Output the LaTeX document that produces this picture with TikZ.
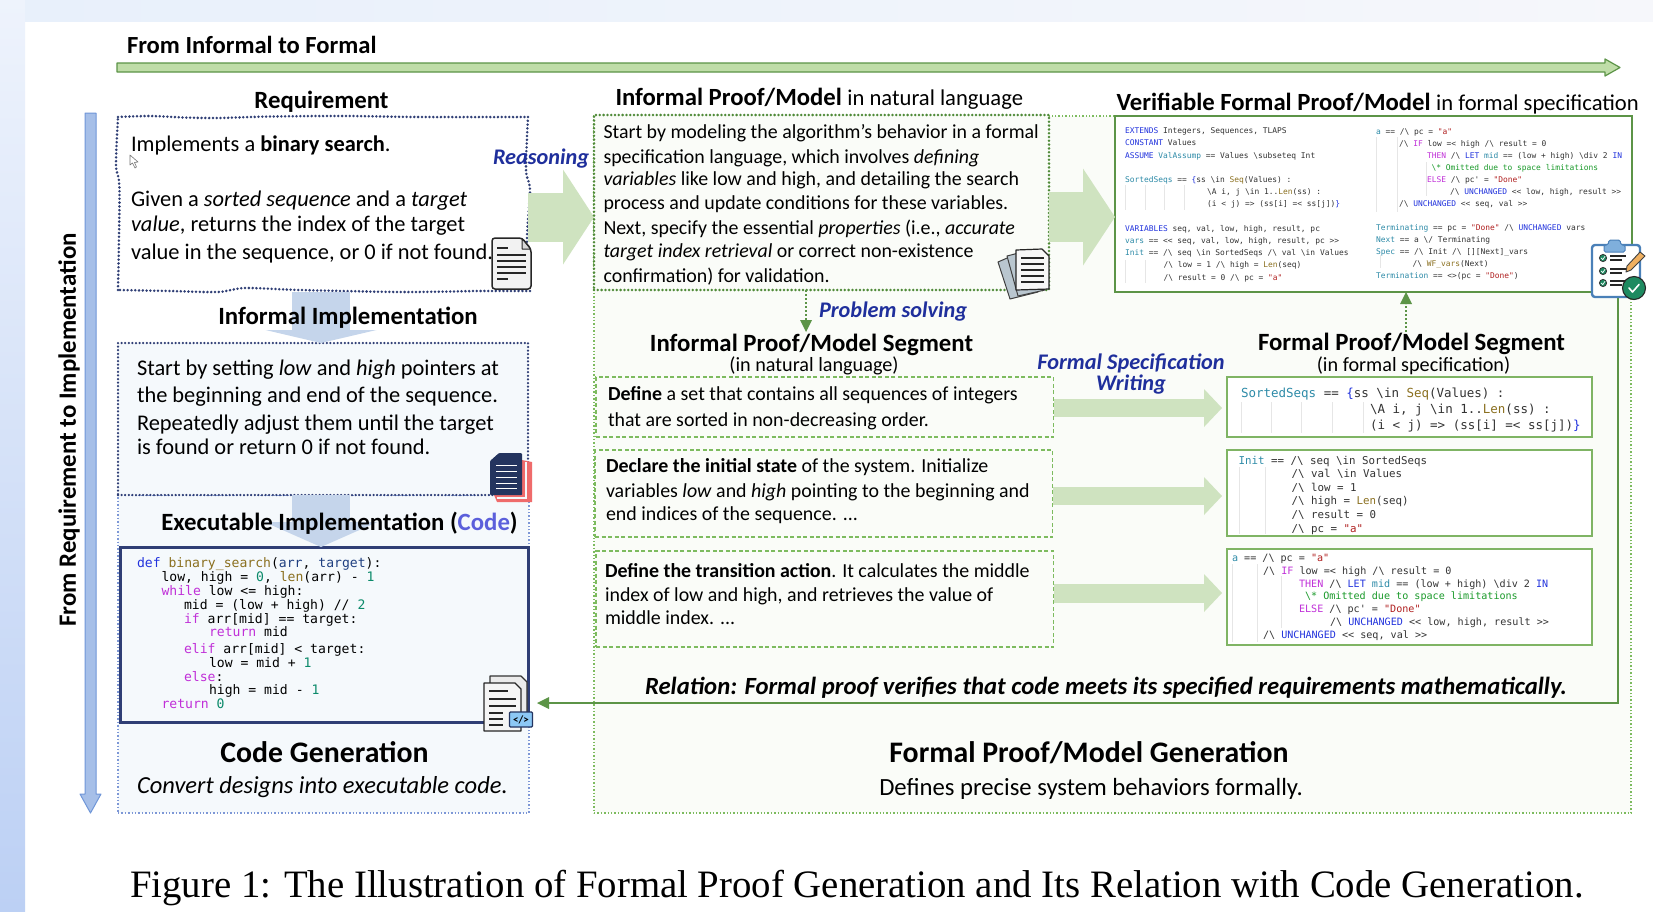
\documentclass[tikz,border=0pt]{standalone}
\usepackage{fontspec}
\setmainfont{Carlito}
\setmonofont{DejaVu Sans Mono}
\newfontfamily\capfont{Liberation Serif}
\usetikzlibrary{arrows.meta}
\definecolor{navydot}{HTML}{2F3E75}
\definecolor{greendot}{HTML}{4F8A38}
\definecolor{segdash}{HTML}{7DBB5F}
\definecolor{boxgreen}{HTML}{7FB464}
\definecolor{darkgreen}{HTML}{5C9447}
\definecolor{bigarrow}{HTML}{CFE3C0}
\definecolor{downblue}{HTML}{C5D5EB}
\definecolor{labelblue}{HTML}{1F2F9C}
\definecolor{codeblue}{HTML}{5B5FDB}
\definecolor{panelblue}{HTML}{F5F9FC}
\definecolor{panelgreen}{HTML}{FAFCF8}
\definecolor{guide}{HTML}{E6E6E6}
\definecolor{tlak}{HTML}{2233DD}
\definecolor{tlam}{HTML}{C030D8}
\definecolor{tlad}{HTML}{2E8BA8}
\definecolor{tlab}{HTML}{8B7020}
\definecolor{tlas}{HTML}{B02020}
\definecolor{tlac}{HTML}{1A9A2A}
\definecolor{tlat}{HTML}{333333}
\definecolor{pyname}{HTML}{1F3F80}
\definecolor{pynum}{HTML}{0B8A6A}
\definecolor{stripA}{HTML}{EEF3FC}
\definecolor{stripB}{HTML}{BCD0F4}
\definecolor{stripC}{HTML}{E8F0FB}
\definecolor{stripD}{HTML}{F6F7FB}
\definecolor{topfill}{HTML}{BFDDA8}
\definecolor{vfill}{HTML}{A6BFE8}
\definecolor{vdraw}{HTML}{6F96D8}
\definecolor{paneldot}{HTML}{7D97D6}
\definecolor{redpage}{HTML}{EF6B6B}
\definecolor{navypage}{HTML}{24345F}
\definecolor{badge}{HTML}{8CC8F5}
\definecolor{papergrey}{HTML}{B9C6CF}
\definecolor{clipblue}{HTML}{4A80B8}
\definecolor{clipfill}{HTML}{7FAFDC}
\definecolor{okgreen}{HTML}{1E8A60}
\definecolor{pencil}{HTML}{F0B060}
\newcommand\Tk[1]{\textcolor{tlak}{#1}}
\newcommand\Tm[1]{\textcolor{tlam}{#1}}
\newcommand\Td[1]{\textcolor{tlad}{#1}}
\newcommand\Tb[1]{\textcolor{tlab}{#1}}
\newcommand\Ts[1]{\textcolor{tlas}{#1}}
\newcommand\Tc[1]{\textcolor{tlac}{#1}}
\newcommand\Tn[1]{\textcolor{pyname}{#1}}
\newcommand\Tu[1]{\textcolor{pynum}{#1}}
\newcommand\tbs{\textbackslash{}}
\newcommand\awe{/\textbackslash{}}
\newcommand\ind[1]{\hspace*{#1pt}}
\newcommand\normpart[1]{{\fontsize{22.6}{28}\mdseries\selectfont #1}}
\tikzset{
  x=1pt,y=-1pt,
  every node/.style={inner sep=0pt,outer sep=0pt},
  txt/.style={anchor=base west,align=left,text=black},
  body/.style={txt,font=\fontsize{22.4}{25}\selectfont},
  sbody/.style={txt,font=\fontsize{19.9}{24}\selectfont},
  ctitle/.style={anchor=base,text=black,font=\fontsize{24.8}{28}\bfseries\selectfont},
  bigtitle/.style={anchor=base,text=black,font=\fontsize{29.8}{32}\bfseries\selectfont},
  sub/.style={anchor=base,text=black,font=\fontsize{20.2}{24}\selectfont},
  flow/.style={anchor=base,align=center,text=labelblue,font=\fontsize{22.3}{21}\bfseries\itshape\selectfont},
  pycode/.style={anchor=base west,align=left,text=black,font=\fontsize{13.1}{14}\ttfamily\selectfont},
  tla/.style={anchor=base west,align=left,text=tlat},
  boxat/.style={anchor=north west,minimum width=#1},
  reqdot/.style={draw=navydot,line width=2.8pt,line cap=round,dash pattern=on 0pt off 3.8pt},
  impldot/.style={draw=navydot,line width=2.5pt,line cap=round,dash pattern=on 0pt off 3.6pt},
  panelb/.style={draw=paneldot,fill=panelblue,line width=1.2pt,dash pattern=on 1.4pt off 2pt},
  panelg/.style={draw=segdash,fill=panelgreen,line width=1.2pt,dash pattern=on 1.4pt off 2pt},
  infbox/.style={draw=greendot,fill=panelgreen,line width=2.8pt,line cap=round,dash pattern=on 0pt off 3.8pt},
  segbox/.style={draw=segdash,fill=panelgreen,line width=1.8pt,dash pattern=on 4pt off 2.5pt},
  fbox/.style={draw=boxgreen,fill=white,line width=2.4pt},
  broad/.style n args={4}{draw=#4,line width=#1pt,-{Triangle[length=#2pt,width=#3pt,line width=0pt]}},
  guideline/.style={draw=guide,line width=.8pt},
  iconline/.style={draw=black!85,line width=1.4pt},
  flowdot/.style={draw=darkgreen,line width=2.4pt,dash pattern=on 2pt off 2pt,-{Triangle[length=12pt,width=12pt,line width=0pt]}},
  relline/.style={draw=darkgreen,line width=2.6pt,-{Triangle[length=12pt,width=12pt,line width=0pt]}},
}
\begin{document}
\begin{tikzpicture}
\useasboundingbox (0,0) rectangle (1653,911);
% page background
\fill[white] (0,0) rectangle (1653,911);
\shade[top color=stripA,bottom color=stripB] (0,0) rectangle (25,911);
\shade[left color=stripC,right color=stripD] (25,0) rectangle (1653,21);

% direction arrows
\draw[draw=darkgreen,fill=topfill,line width=1.2pt,line join=round]
  (117,63) -- (1605,63) -- (1605,59) -- (1620,67.5) -- (1605,76) -- (1605,72) -- (117,72) -- cycle;
\node[anchor=base west,text=black,font=\fontsize{24.6}{28}\bfseries\selectfont] (hlabel) at (127,53) {From Informal to Formal};
\draw[draw=vdraw,fill=vfill,line width=1pt,line join=round]
  (85,113) -- (96,113) -- (96,794) -- (101,794) -- (90.5,813) -- (80,794) -- (85,794) -- cycle;
\node[rotate=90,anchor=center,text=black,font=\fontsize{24.9}{28}\bfseries\selectfont] (vlabel) at (69,430) {From Requirement to Implementation};

% panels
\node[panelb,boxat=411pt,minimum height=318pt] (codepanel) at (118,495) {};
\node[panelg,boxat=1037pt,minimum height=697pt] (formalpanel) at (594,116) {};

% requirement (wavy dotted outline)
\node[boxat=410pt,minimum height=176pt] (req) at (118,116) {};
\draw[reqdot] plot[smooth,tension=.5] coordinates {(118,117) (150,116) (184,117.5) (218,118) (270,116.5) (344,116) (420,117) (528,117)};
\draw[reqdot] plot[smooth,tension=.5] coordinates {(528,117) (526,170) (530,190) (527,240) (530,291)};
\draw[reqdot] plot[smooth,tension=.5] coordinates {(530,291) (480,291) (402,292) (300,290) (245,288) (218,292) (170,291) (118,290)};
\draw[reqdot] plot[smooth,tension=.5] coordinates {(118,290) (119.5,190) (116,165) (118,117)};
\node[impldot,fill=panelblue,boxat=410pt,minimum height=152pt] (impl) at (118,343) {};
\node[draw=navydot,fill=panelblue,line width=3pt,boxat=408pt,minimum height=175pt] (codebox) at (120,547) {};

% big flow arrows
\coordinate (r1) at (0,217);
\coordinate (d1) at (321,0);
\draw[broad={49}{31}{95}{bigarrow}] (req.east |- r1) -- (formalpanel.west |- r1);
\node[infbox,boxat=455pt,minimum height=175pt] (inf) at (594,115) {};
\node[draw=darkgreen,fill=white,line width=2.8pt,boxat=517pt,minimum height=176pt] (verif) at (1115,116) {};
\draw[broad={50}{32}{97}{bigarrow}] (inf.east |- r1) -- (verif.west |- r1);
\draw[broad={58}{13}{111}{downblue}] (req.south -| d1) -- (impl.north -| d1);
\draw[broad={58}{25}{113}{downblue}] (impl.south -| d1) -- (codebox.north -| d1);

% left titles and text
\node[ctitle] (reqt) at (321.5,108) {Requirement};
\node[body] (reqtxt) at (131,259) {Implements a \textbf{binary search}.\\[30pt]Given a \textit{sorted sequence} and a \textit{target}\\\textit{value}, returns the index of the target\\[3pt]value in the sequence, or 0 if not found.};
\node[ctitle] (implt) at (348,324) {Informal Implementation};
\node[body] (impltxt) at (137,454) {Start by setting \textit{low} and \textit{high} pointers at\\[2pt]the beginning and end of the sequence.\\[3pt]Repeatedly adjust them until the target\\[-1pt]is found or return 0 if not found.};
\node[ctitle] (codet) at (339.5,530) {Executable Implementation (\textcolor{codeblue}{Code})};
\node[pycode] (pysrc) at (137,708) {\Tk{def} \Tb{binary\_search}(\Tn{arr}, \Tn{target}):\\
\ind{24.5}low, high = \Tu{0}, \Tb{len}(arr) - \Tu{1}\\
\ind{24.5}\Tm{while} low <= high:\\
\ind{47}mid = (low + high) // \Tu{2}\\
\ind{47}\Tm{if} arr[mid] == target:\\[-1pt]
\ind{72}\Tm{return} mid\\[3pt]
\ind{47}\Tm{elif} arr[mid] < target:\\
\ind{72}low = mid + \Tu{1}\\
\ind{47}\Tm{else}:\\[-1pt]
\ind{72}high = mid - \Tu{1}\\
\ind{24.5}\Tm{return} \Tu{0}};
\node[bigtitle] (codegen) at (324.5,762) {Code Generation};
\node[txt,font=\fontsize{24.5}{28}\itshape\selectfont] (codegens) at (137,793) {Convert designs into executable code.};

% middle column
\node[txt,font=\fontsize{24.7}{28}\selectfont] (inft) at (615.5,105) {\textbf{Informal Proof/Model} \normpart{in natural language}};
\node[sbody] (inftxt) at (603.5,282) {Start by modeling the algorithm’s behavior in a formal\\[1pt]specification language, which involves \textit{defining}\\[-2pt]\textit{variables} like low and high, and detailing the search\\process and update conditions for these variables.\\[1pt]Next, specify the essential \textit{properties} (i.e., \textit{accurate}\\[-1pt]\textit{target index retrieval} or correct non-existence\\[1pt]confirmation) for validation.};
\coordinate (ps) at (806,332);
\draw[flowdot] (inf.south -| ps) -- (ps);
\node[flow,anchor=base west] (pslabel) at (819,317) {Problem solving};
\node[ctitle] (segl) at (811.5,351) {Informal Proof/Model Segment};
\node[sub] (segls) at (814,371) {(in natural language)};
\node[segbox,boxat=457.5pt,minimum height=60pt] (seg1) at (596,377) {};
\node[segbox,boxat=457.5pt,minimum height=87pt] (seg2) at (595,450) {};
\node[segbox,boxat=457.5pt,minimum height=96pt] (seg3) at (596,551) {};
\node[sbody] (seg1t) at (608,426.5) {\textbf{Define} a set that contains all sequences of integers\\[2pt]that are sorted in non-decreasing order.};
\node[sbody] (seg2t) at (606,520.5) {\textbf{Declare the initial state} of the system. Initialize\\[1pt]variables \textit{low} and \textit{high} pointing to the beginning and\\[-1pt]end indices of the sequence. ...};
\node[sbody] (seg3t) at (605,624.5) {\textbf{Define the transition action}. It calculates the middle\\index of low and high, and retrieves the value of\\[-1pt]middle index. ...};

% right column
\node[txt,font=\fontsize{24.7}{28}\selectfont] (vert) at (1116.5,110) {\textbf{Verifiable Formal Proof/Model} \normpart{in formal specification}};
\draw[guideline] (1125,185) -- (1125,210) (1145,185) -- (1145,210) (1164,185) -- (1164,210) (1184,185) -- (1184,210)
  (1125,260) -- (1125,283) (1145,260) -- (1145,283) (1376,137) -- (1376,212) (1397,137) -- (1397,212) (1426,162) -- (1426,196) (1380,255) -- (1380,268);
\node[tla,font=\fontsize{7.9}{12.2}\ttfamily\selectfont] (verl) at (1125,280) {\Tk{EXTENDS} Integers, Sequences, TLAPS\\
\Tk{CONSTANT} Values\\
\Tk{ASSUME} \Td{ValAssump} == Values \tbs subseteq Int\\
\mbox{}\\
\Td{SortedSeqs} == \Tk{\{}ss \tbs in \Tb{Seq}(Values) :\\
\ind{82}\tbs A i, j \tbs in 1..\Tb{Len}(ss) :\\
\ind{82}(i < j) => (ss[i] =< ss[j])\Tk{\}}\\
\mbox{}\\
\Tk{VARIABLES} seq, val, low, high, result, pc\\
\Td{vars} == << seq, val, low, high, result, pc >>\\
\Td{Init} == \awe{} seq \tbs in SortedSeqs \awe{} val \tbs in Values\\
\ind{38.5}\awe{} low = 1 \awe{} high = \Tb{Len}(seq)\\
\ind{38.5}\awe{} result = 0 \awe{} pc = \Ts{"a"}};
\node[tla,font=\fontsize{7.9}{12}\ttfamily\selectfont] (verr) at (1376,278) {\Td{a} == \awe{} pc = \Ts{"a"}\\
\ind{23}\awe{} \Tm{IF} low =< high \awe{} result = 0\\
\ind{51}\Tm{THEN} \awe{} \Tk{LET} \Td{mid} == (low + high) \tbs div 2 \Tk{IN}\\
\ind{55.6}\Tc{\tbs * Omitted due to space limitations}\\
\ind{51}\Tm{ELSE} \awe{} pc' = \Ts{"Done"}\\
\ind{74}\awe{} \Tk{UNCHANGED} << low, high, result >>\\
\ind{23}\awe{} \Tk{UNCHANGED} << seq, val >>\\
\mbox{}\\
\Td{Terminating} == pc = \Ts{"Done"} \awe{} \Tk{UNCHANGED} vars\\
\Td{Next} == a \tbs/ Terminating\\
\Td{Spec} == \awe{} Init \awe{} [][Next]\_vars\\
\ind{36.5}\awe{} \Tb{WF\_vars}(Next)\\
\Td{Termination} == <>(pc = \Ts{"Done"})};

\node[flow] (fsw) at (1131,390) {Formal Specification\\Writing};
\node[ctitle] (segr) at (1411.5,350) {Formal Proof/Model Segment};
\node[sub] (segrs) at (1413.5,371) {(in formal specification)};
\node[fbox,boxat=365pt,minimum height=60pt] (f1) at (1227,377) {};
\node[fbox,boxat=365pt,minimum height=86pt] (f2) at (1227,450) {};
\node[fbox,boxat=365pt,minimum height=96pt] (f3) at (1227,549) {};
\coordinate (a1) at (0,408);
\coordinate (a2) at (0,496);
\coordinate (a3) at (0,593);
\draw[broad={18.5}{18}{38}{bigarrow},shorten >=5pt] (seg1.east |- a1) -- (f1.west |- a1);
\draw[broad={18.5}{18}{38}{bigarrow},shorten >=5pt] (seg2.east |- a2) -- (f2.west |- a2);
\draw[broad={19}{18}{38}{bigarrow},shorten >=5pt] (seg3.east |- a3) -- (f3.west |- a3);
\coordinate (up) at (1406,332);
\draw[flowdot] (up) -- (verif.south -| up);

\draw[guideline] (1241,402) -- (1241,433) (1271,402) -- (1271,433) (1301.5,402) -- (1301.5,433) (1332,402) -- (1332,433) (1363,402) -- (1363,433)
  (1239,467) -- (1239,534) (1265,467) -- (1265,534)
  (1232,564) -- (1232,642) (1257,564) -- (1257,642) (1281.5,576) -- (1281.5,628);
\node[tla,font=\fontsize{12.5}{16}\ttfamily\selectfont] (f1c) at (1241,429) {\Td{SortedSeqs} == \Tk{\{}ss \tbs in \Tb{Seq}(Values) :\\
\ind{129}\tbs A i, j \tbs in 1..\Tb{Len}(ss) :\\
\ind{129}(i < j) => (ss[i] =< ss[j])\Tk{\}}};
\node[tla,font=\fontsize{10.8}{13.6}\ttfamily\selectfont] (f2c) at (1238.5,532) {\Td{Init} == \awe{} seq \tbs in SortedSeqs\\
\ind{53}\awe{} val \tbs in Values\\
\ind{53}\awe{} low = 1\\
\ind{53}\awe{} high = \Tb{Len}(seq)\\
\ind{53}\awe{} result = 0\\
\ind{53}\awe{} pc = \Ts{"a"}};
\node[tla,font=\fontsize{10.1}{12.7}\ttfamily\selectfont] (f3c) at (1232,638) {\Td{a} == \awe{} pc = \Ts{"a"}\\
\ind{31}\awe{} \Tm{IF} low =< high \awe{} result = 0\\
\ind{67}\Tm{THEN} \awe{} \Tk{LET} \Td{mid} == (low + high) \tbs div 2 \Tk{IN}\\
\ind{73}\Tc{\tbs * Omitted due to space limitations}\\
\ind{67}\Tm{ELSE} \awe{} pc' = \Ts{"Done"}\\
\ind{98}\awe{} \Tk{UNCHANGED} << low, high, result >>\\
\ind{31}\awe{} \Tk{UNCHANGED} << seq, val >>};

% relation
\coordinate (relstart) at (1618,295);
\coordinate (relend) at (537,703);
\draw[relline] (relstart) |- (relend);
\node[txt,font=\fontsize{24.7}{28}\bfseries\itshape\selectfont] (rel) at (645,694) {Relation: Formal proof verifies that code meets its specified requirements mathematically.};
\node[bigtitle] (fgen) at (1089,762) {Formal Proof/Model Generation};
\node[anchor=base,text=black,font=\fontsize{24.7}{28}\selectfont] (fgens) at (1091,795) {Defines precise system behaviors formally.};

% flow labels
\node[flow,anchor=base west] (reas) at (493,164) {Reasoning};

% caption
\node[anchor=base west,text=black,font=\capfont\fontsize{38.8}{42}\selectfont] (cap) at (130,897) {Figure 1: The Illustration of Formal Proof Generation and Its Relation with Code Generation.};

% cursor
\draw[draw=black!55,fill=white,line width=.6pt,line join=round] (130,155) -- (130,165) -- (132.5,163) -- (135,168) -- (136.5,167) -- (134.5,162.5) -- (138,162) -- cycle;

% document icon (requirement)
\draw[fill=black!5,draw=black!85,line width=1.5pt,rounded corners=3pt] (492,244) -- (492,238) -- (522,238) -- (531,249) -- (531,289) -- (492,289) -- cycle;
\draw[fill=black!15,draw=black!85,line width=1pt,line join=round] (522,238.5) -- (522,249) -- (530.5,249) -- cycle;
\draw[iconline] (497,248) -- (508,248) (497,255) -- (526,255) (497,261) -- (526,261) (497,267) -- (526,267) (497,273) -- (526,273) (497,279) -- (508,279);

% document icon (informal implementation)
\fill[redpage] (522,460) -- (532,462) -- (532,502) -- (497,502) -- (494,495) -- (522,495) -- cycle;
\draw[panelblue,line width=1.2pt] (526,462) -- (526,498) -- (497,498);
\fill[navypage,rounded corners=1pt] (490,461) -- (499,453) -- (522,453) -- (522,495) -- (490,495) -- cycle;
\draw[white,line width=1pt] (496,465) -- (517,465) (496,471) -- (517,471) (496,477) -- (517,477) (496,483) -- (517,483) (496,488) -- (517,488);

% code document icon
\draw[fill=black!8,draw=black!80,line width=1.1pt,line join=round] (490,676) -- (521,676) -- (527,682) -- (527,720) -- (490,720) -- cycle;
\draw[fill=black!4,draw=black!85,line width=1.3pt,line join=round] (484,683) -- (515,683) -- (521,689) -- (521,731) -- (484,731) -- cycle;
\draw[iconline,line width=1.1pt] (489,691) -- (508,691) (489,699) -- (516,699) (489,706) -- (516,706) (489,713) -- (503,713) (489,719) -- (503,719) (489,725) -- (503,725);
\node[draw=navypage,fill=badge,line width=1.1pt,rounded corners=1pt,minimum width=23pt,minimum height=15pt,text=black,font=\fontsize{11}{11}\bfseries\selectfont] (codebadge) at (521,719.5) {</>};

% papers icon
\draw[fill=papergrey,draw=black!75,line width=1pt,line join=round] (998,262) -- (1014,255) -- (1038,292) -- (1010,299) -- cycle;
\draw[fill=papergrey,draw=black!75,line width=1pt,line join=round] (1007,256) -- (1030,250) -- (1045,290) -- (1018,296) -- cycle;
\draw[fill=black!3,draw=black!85,line width=1.2pt,line join=round] (1016,250) -- (1042,249) -- (1049,256) -- (1049,289) -- (1016,290) -- cycle;
\draw[iconline,line width=1.3pt] (1021,258) -- (1044,258) (1021,264) -- (1044,264) (1021,270) -- (1044,270) (1021,276) -- (1044,276) (1021,282) -- (1044,282);

% clipboard icon
\draw[fill=white,draw=clipblue,line width=2.4pt,rounded corners=3pt] (1592,245) rectangle (1640,297);
\draw[fill=clipfill,draw=clipblue,line width=1pt,rounded corners=1.5pt] (1604,245) -- (1608,245) -- (1609,240) -- (1620,240) -- (1621,245) -- (1625,245) -- (1625,252) -- (1604,252) -- cycle;
\foreach \yy in {258,271,283} {
  \draw[fill=okgreen,draw=black!80,line width=.8pt] (1603,\yy) circle (3.6pt);
  \draw[white,line width=.7pt] (1601,\yy) -- (1602.8,\yy+1.6) -- (1605,\yy-1.8);
  \draw[draw=black!85,line width=1.6pt] (1610,\yy-2) -- (1626,\yy-2) (1610,\yy+2) -- (1622,\yy+2);
}
\draw[fill=pencil,draw=black!75,line width=.9pt,line join=round] (1640,252) -- (1645,256) -- (1631,270) -- (1626,272) -- (1627,266) -- cycle;
\draw[fill=okgreen,draw=black!85,line width=1.1pt] (1634,288) circle (11.5pt);
\draw[white,line width=1.6pt,line cap=round,line join=round] (1629,288) -- (1632.5,292) -- (1639,284.5);
\end{tikzpicture}
\end{document}
